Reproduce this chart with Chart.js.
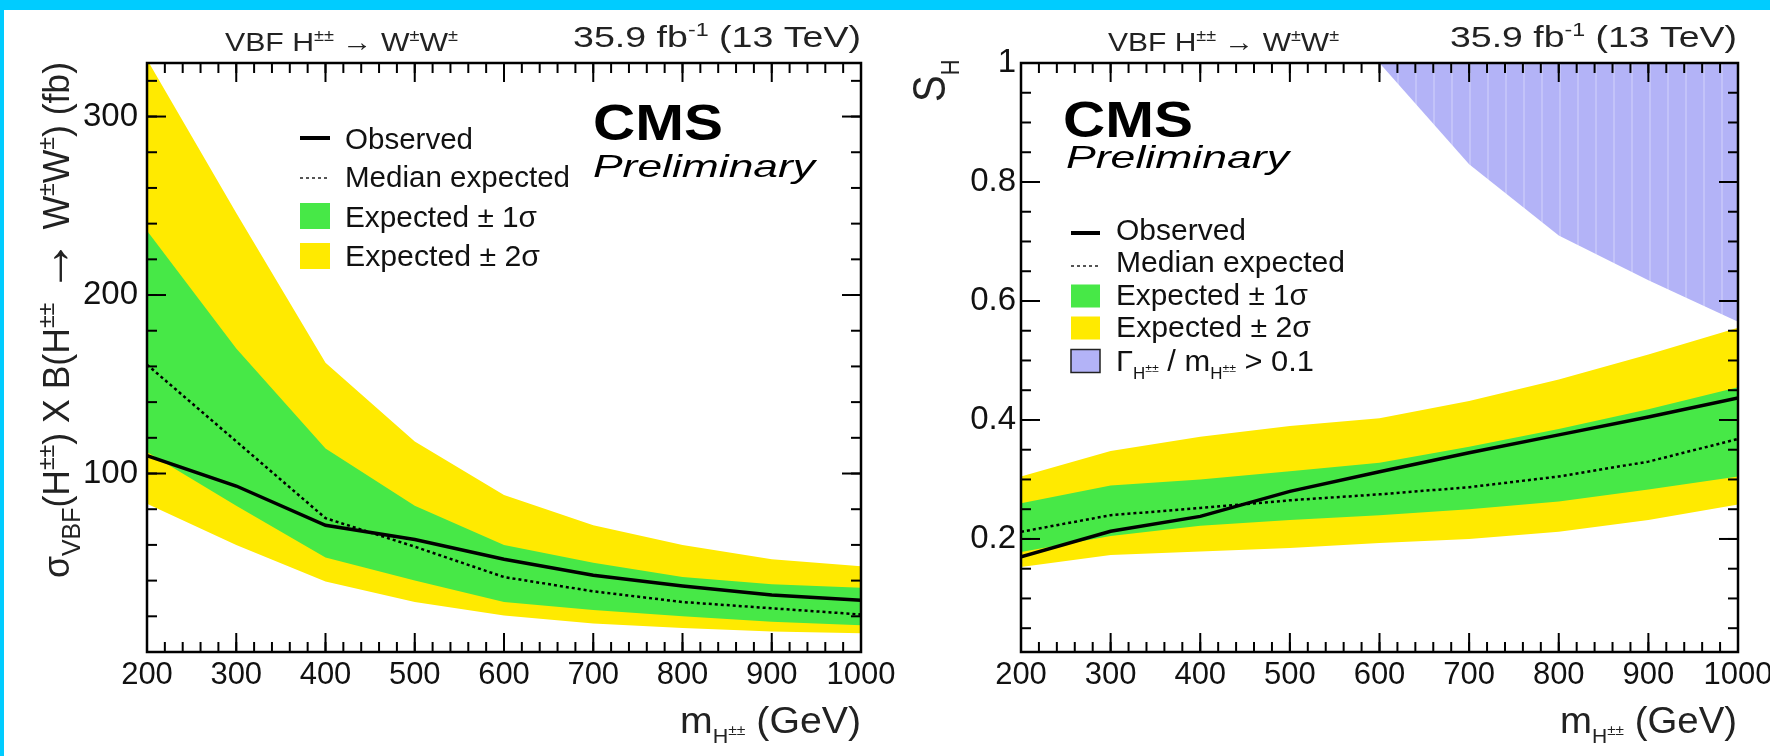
<!DOCTYPE html>
<html>
<head>
<meta charset="utf-8">
<script src="https://cdn.jsdelivr.net/npm/chart.js@4.4.1/dist/chart.umd.min.js"></script>
<style>
  html, body { margin: 0; padding: 0; background: #00ccff; overflow: hidden; }
  #page { position: absolute; left: 4px; top: 10px; width: 1766px; height: 746px; background: #fff; }
  .panel { position: absolute; top: 0; height: 756px; }
</style>
</head>
<body>
<div id="page"></div>
<div class="panel" style="left:0;width:910px"><canvas id="left" width="910" height="756"></canvas></div>
<div class="panel" style="left:885px;width:885px"><canvas id="right" width="885" height="756"></canvas></div>
<script>
// Higgs mass points (GeV)
const masses = [200, 300, 400, 500, 600, 700, 800, 900, 1000];

// left panel: sigma_VBF x B limits (fb)
const xsObserved = [110, 93, 71, 63, 52, 43, 37, 32, 29];
const xsExpected = [161, 118, 75, 59, 42, 34, 28, 24.5, 21];
const xsUp1 = [236, 170, 114, 82, 60, 50, 42, 38, 36];
const xsLow1 = [112, 82, 53, 40, 28, 23.5, 20, 17, 15];
const xsUp2 = [332, 246, 162, 118, 88, 71, 60, 52, 48];
const xsLow2 = [83, 60, 39.5, 28, 20.5, 16, 13.5, 11.5, 10.5];

// right panel: s_H limits
const shObserved = [0.17, 0.213, 0.238, 0.28, 0.313, 0.345, 0.375, 0.405, 0.437];
const shExpected = [0.212, 0.24, 0.252, 0.265, 0.275, 0.287, 0.305, 0.33, 0.368];
const shUp1 = [0.26, 0.29, 0.30, 0.314, 0.328, 0.355, 0.385, 0.418, 0.455];
const shLow1 = [0.178, 0.205, 0.222, 0.232, 0.24, 0.25, 0.263, 0.283, 0.305];
const shUp2 = [0.305, 0.348, 0.372, 0.39, 0.403, 0.432, 0.468, 0.51, 0.555];
const shLow2 = [0.153, 0.173, 0.179, 0.185, 0.193, 0.2, 0.212, 0.232, 0.258];

// region where Gamma/m > 0.1
const widthMasses = [600, 700, 800, 900, 1000];
const widthLimit = [1.0, 0.83, 0.71, 0.635, 0.565];

// tick labels
const massTicks = [200, 300, 400, 500, 600, 700, 800, 900, 1000];
const xsTicks = [100, 200, 300];
const shTicks = [0.2, 0.4, 0.6, 0.8, 1];

const GREEN = '#47e847';
const YELLOW = '#ffea00';
const PURPLE = '#b3b3f7';
const FAM = '"Liberation Sans", Arial, Helvetica, sans-serif';

const pts = (xs, ys) => xs.map((x, i) => ({ x: x, y: ys[i] }));

// text with sub/superscripts, optionally stretched to a width
function drawRich(ctx, s) {
    const segs = typeof s.segs === 'string' ? [{ t: s.segs }] : s.segs;
    const font = k => `${s.style || 'normal'} ${s.weight || 'normal'} ${s.size * k}px ${FAM}`;
    let w = 0;
    const parts = segs.map(g => {
        const k = g.k || 1;
        ctx.font = font(k);
        const p = { t: g.t, k: k, dy: (g.dy || 0) * s.size, x: w };
        w += ctx.measureText(g.t).width;
        return p;
    });
    const sx = s.fit ? s.fit / w : (s.sx || 1);
    ctx.save();
    ctx.translate(s.x, s.y);
    if (s.rot) ctx.rotate(s.rot);
    ctx.scale(sx, s.sy || 1);
    const off = s.align === 'right' ? -w : (s.align === 'center' ? -w / 2 : 0);
    ctx.fillStyle = s.color || '#000';
    ctx.textAlign = 'left';
    ctx.textBaseline = 'alphabetic';
    parts.forEach(p => {
        ctx.font = font(p.k);
        ctx.fillText(p.t, off + p.x, p.dy);
    });
    ctx.restore();
}

function steps(from, to, step) {
    const out = [];
    for (let k = 0; from + k * step <= to + 1e-9; k++) out.push(+(from + k * step).toFixed(4));
    return out;
}

// ROOT-like frame: inward ticks on all four sides, labels, titles, legend
const rootFrame = {
    id: 'rootFrame',
    afterDraw(chart, args, o) {
        const { ctx, chartArea: a, scales: { x, y } } = chart;
        ctx.save();
        ctx.strokeStyle = '#000';
        ctx.lineWidth = 2;
        const seg = (x1, y1, x2, y2) => { ctx.beginPath(); ctx.moveTo(x1, y1); ctx.lineTo(x2, y2); ctx.stroke(); };
        const xTick = (v, len) => { const p = x.getPixelForValue(v); seg(p, a.bottom, p, a.bottom - len); seg(p, a.top, p, a.top + len); };
        const yTick = (v, len) => { const p = y.getPixelForValue(v); seg(a.left, p, a.left + len, p); seg(a.right, p, a.right - len, p); };
        o.xMinor.forEach(v => xTick(v, 10));
        o.yMinor.forEach(v => yTick(v, 10));
        o.xMajor.forEach(v => xTick(v, 19));
        o.yMajor.forEach(v => yTick(v, 19));
        ctx.lineWidth = 2.5;
        ctx.strokeRect(a.left, a.top, a.right - a.left, a.bottom - a.top);

        // tick labels
        ctx.fillStyle = '#111';
        ctx.font = `31px ${FAM}`;
        ctx.textAlign = 'center';
        ctx.textBaseline = 'middle';
        o.xMajor.forEach(v => ctx.fillText(String(v), x.getPixelForValue(v), 675));
        ctx.font = `33px ${FAM}`;
        ctx.textAlign = 'right';
        o.yMajor.forEach(v => ctx.fillText(String(v), o.yLabelX, y.getPixelForValue(v)));

        // legend
        const L = o.legend;
        L.rows.forEach(r => {
            const cy = r.cy;
            if (r.kind === 'line') {
                ctx.lineWidth = 4; ctx.strokeStyle = '#000';
                seg(L.x0, cy, L.x1, cy);
            } else if (r.kind === 'dash') {
                ctx.lineWidth = 2; ctx.strokeStyle = '#555';
                ctx.setLineDash([3, 3]);
                seg(L.x0, cy, L.x1, cy);
                ctx.setLineDash([]);
            } else {
                ctx.fillStyle = r.color;
                ctx.fillRect(L.x0, cy - L.h / 2, L.x1 - L.x0, L.h);
                if (r.edge) {
                    ctx.lineWidth = 1.5; ctx.strokeStyle = '#222';
                    ctx.strokeRect(L.x0, cy - L.h / 2, L.x1 - L.x0, L.h);
                }
            }
            drawRich(ctx, { segs: r.text, x: L.tx, y: r.base, size: 29, fit: r.w, color: '#111' });
        });

        o.texts.forEach(t => drawRich(ctx, t));
        ctx.restore();
    }
};

function stripes() {
    const c = document.createElement('canvas');
    c.width = 18; c.height = 4;
    const g = c.getContext('2d');
    g.fillStyle = PURPLE; g.fillRect(0, 0, 18, 4);
    g.fillStyle = '#c3c3f9'; g.fillRect(8, 0, 2, 4);
    return g.createPattern(c, 'repeat');
}

function bandSets(obs, exp, up1, low1, up2, low2) {
    const line = { pointRadius: 0, tension: 0, fill: false };
    const edge = Object.assign({}, line, { borderColor: 'rgba(0,0,0,0)', borderWidth: 0 });
    return [
        Object.assign({}, line, { label: 'Observed', data: pts(masses, obs), borderColor: '#000', borderWidth: 3.5, order: 0 }),
        Object.assign({}, line, { label: 'Median expected', data: pts(masses, exp), borderColor: '#000', borderWidth: 2.5, borderDash: [3, 3], order: 1 }),
        Object.assign({}, edge, { label: 'Expected ± 1σ', data: pts(masses, up1), fill: 3, backgroundColor: GREEN, order: 2 }),
        Object.assign({}, edge, { label: 'low1', data: pts(masses, low1), order: 2 }),
        Object.assign({}, edge, { label: 'Expected ± 2σ', data: pts(masses, up2), fill: 5, backgroundColor: YELLOW, order: 3 }),
        Object.assign({}, edge, { label: 'low2', data: pts(masses, low2), order: 3 })
    ];
}

function makeChart(id, datasets, yMin, yMax, pad, frame) {
    return new Chart(document.getElementById(id), {
        type: 'line',
        data: { datasets: datasets },
        options: {
            responsive: false,
            animation: false,
            events: [],
            layout: { padding: pad },
            plugins: { legend: { display: false }, tooltip: { enabled: false }, rootFrame: frame },
            scales: {
                x: { type: 'linear', min: 200, max: 1000, display: false },
                y: { type: 'linear', min: yMin, max: yMax, display: false }
            }
        },
        plugins: [rootFrame]
    });
}

const vbfTitle = [{ t: 'VBF H' }, { t: '±±', k: 0.6, dy: -0.38 }, { t: ' → W' }, { t: '±', k: 0.6, dy: -0.38 }, { t: 'W' }, { t: '±', k: 0.6, dy: -0.38 }];
const lumiTitle = [{ t: '35.9 fb' }, { t: '-1', k: 0.62, dy: -0.38 }, { t: ' (13 TeV)' }];
const massTitle = [{ t: 'm' }, { t: 'H', k: 0.55, dy: 0.28 }, { t: '±±', k: 0.4, dy: 0.05 }, { t: ' (GeV)' }];

// left panel
makeChart('left', bandSets(xsObserved, xsExpected, xsUp1, xsLow1, xsUp2, xsLow2), 0, 330,
    { left: 147, right: 49, top: 63, bottom: 104 },
    {
        xMajor: massTicks, xMinor: steps(200, 1000, 20),
        yMajor: xsTicks, yMinor: steps(20, 320, 20), yLabelX: 138,
        legend: {
            x0: 300, x1: 330, tx: 345, h: 26,
            rows: [
                { kind: 'line', cy: 138, base: 149, text: 'Observed', w: 128 },
                { kind: 'dash', cy: 178, base: 187, text: 'Median expected', w: 225 },
                { kind: 'box', color: GREEN, cy: 216, base: 227, text: 'Expected ± 1σ', w: 192 },
                { kind: 'box', color: YELLOW, cy: 256, base: 266, text: 'Expected ± 2σ', w: 195 }
            ]
        },
        texts: [
            { segs: vbfTitle, x: 225, y: 51, size: 26, fit: 233, color: '#222' },
            { segs: lumiTitle, x: 861, y: 47, size: 30, fit: 288, align: 'right', color: '#222' },
            { segs: 'CMS', x: 593, y: 140, size: 50, weight: 'bold', fit: 130 },
            { segs: 'Preliminary', x: 593, y: 177, size: 32, style: 'italic', fit: 222 },
            { segs: massTitle, x: 861, y: 733, size: 36, fit: 181, align: 'right', color: '#222' },
            {
                segs: [{ t: 'σ' }, { t: 'VBF', k: 0.7, dy: 0.3 }, { t: '(H' }, { t: '±±', k: 0.65, dy: -0.4 },
                    { t: ') X B(H' }, { t: '±±', k: 0.65, dy: -0.4 }, { t: ' ' }, { t: '→', k: 1.5, dy: 0.02 }, { t: ' W' },
                    { t: '±', k: 0.65, dy: -0.4 }, { t: 'W' }, { t: '±', k: 0.65, dy: -0.4 }, { t: ') (fb)' }],
                x: 69, y: 578, rot: -Math.PI / 2, size: 34, fit: 516, sy: 1.1, color: '#222'
            }
        ]
    });

// right panel
const rightSets = bandSets(shObserved, shExpected, shUp1, shLow1, shUp2, shLow2);
rightSets.push({
    label: 'Γ/m > 0.1', data: pts(widthMasses, widthLimit), fill: 'end',
    backgroundColor: stripes(), borderColor: 'rgba(0,0,0,0)', borderWidth: 0, pointRadius: 0, tension: 0, order: 4
});
makeChart('right', rightSets, 0.01, 1,
    { left: 136, right: 32, top: 63, bottom: 104 },
    {
        xMajor: massTicks, xMinor: steps(200, 1000, 20),
        yMajor: shTicks, yMinor: steps(0.05, 1, 0.05), yLabelX: 131,
        legend: {
            x0: 186, x1: 215, tx: 231, h: 23,
            rows: [
                { kind: 'line', cy: 233, base: 240, text: 'Observed', w: 130 },
                { kind: 'dash', cy: 266, base: 272, text: 'Median expected', w: 229 },
                { kind: 'box', color: GREEN, cy: 296, base: 305, text: 'Expected ± 1σ', w: 192 },
                { kind: 'box', color: YELLOW, cy: 328, base: 337, text: 'Expected ± 2σ', w: 195 },
                {
                    kind: 'box', color: PURPLE, edge: true, cy: 361, base: 371, w: 198,
                    text: [{ t: 'Γ' }, { t: 'H', k: 0.55, dy: 0.28 }, { t: '±±', k: 0.4, dy: 0.05 }, { t: ' / m' },
                        { t: 'H', k: 0.55, dy: 0.28 }, { t: '±±', k: 0.4, dy: 0.05 }, { t: ' > 0.1' }]
                }
            ]
        },
        texts: [
            { segs: vbfTitle, x: 223, y: 51, size: 26, fit: 231, color: '#222' },
            { segs: lumiTitle, x: 852, y: 47, size: 30, fit: 287, align: 'right', color: '#222' },
            { segs: 'CMS', x: 178, y: 137, size: 50, weight: 'bold', fit: 130 },
            { segs: 'Preliminary', x: 181, y: 168, size: 32, style: 'italic', fit: 223 },
            { segs: massTitle, x: 852, y: 733, size: 36, fit: 177, align: 'right', color: '#222' },
            { segs: [{ t: 'S' }, { t: 'H', k: 0.55, dy: 0.3 }], x: 60, y: 102, rot: -Math.PI / 2, size: 40, sy: 1.15, color: '#222' }
        ]
    });
</script>
</body>
</html>
